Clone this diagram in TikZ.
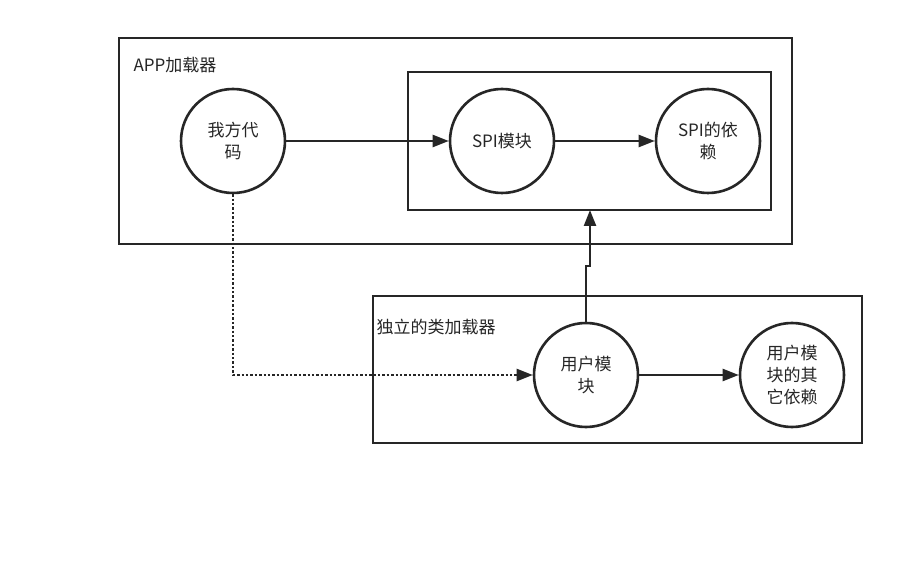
\documentclass[tikz,border=0pt]{standalone}
\usepackage{fontspec}
\setmainfont{Noto Sans CJK SC}
\usetikzlibrary{arrows.meta}
\begin{document}
\begin{tikzpicture}[x=1pt,y=-1pt,
  box/.style={draw=black!85,line width=2.6pt},
  circ/.style={circle,draw=black!85,line width=2.6pt,minimum size=104pt,inner sep=0pt,align=center,font=\fontsize{17}{22}\selectfont,text=black!85},
  lbl/.style={anchor=west,font=\fontsize{17}{22}\selectfont,text=black!85},
  arr/.style={draw=black!85,line width=2.4pt,-{Triangle[length=16pt,width=12pt]}}]
\useasboundingbox (0,0) rectangle (924,577);
\fill[white] (0,0) rectangle (924,577);
\draw[box] (119,38) rectangle (792,244);
\node[lbl] (appl) at (130,65) {APP加载器};
\draw[box] (408,72) rectangle (771,210);
\coordinate (innerb) at (590,210);
\node[circ] (me) at (233,141) {我方代\\码};
\node[circ] (spi) at (502,141) {SPI模块};
\node[circ] (spid) at (708,141) {SPI的依\\赖};
\draw[box] (373,296) rectangle (862,443);
\node[lbl] (indl) at (373,327) {独立的类加载器};
\node[circ] (user) at (586,375) {用户模\\块};
\node[circ] (other) at (792,375) {用户模\\块的其\\它依赖};
\draw[arr] (me) -- (spi);
\draw[arr] (spi) -- (spid);
\draw[arr] (user) -- (other);
\draw[arr,dotted] (me.south) -- (233,375) -- (user.west);
\coordinate (j1) at (586,266);
\coordinate (j2) at (590,266);
\draw[arr] (user.north) -- (j1) -- (j2) -- (innerb);
\end{tikzpicture}
\end{document}
